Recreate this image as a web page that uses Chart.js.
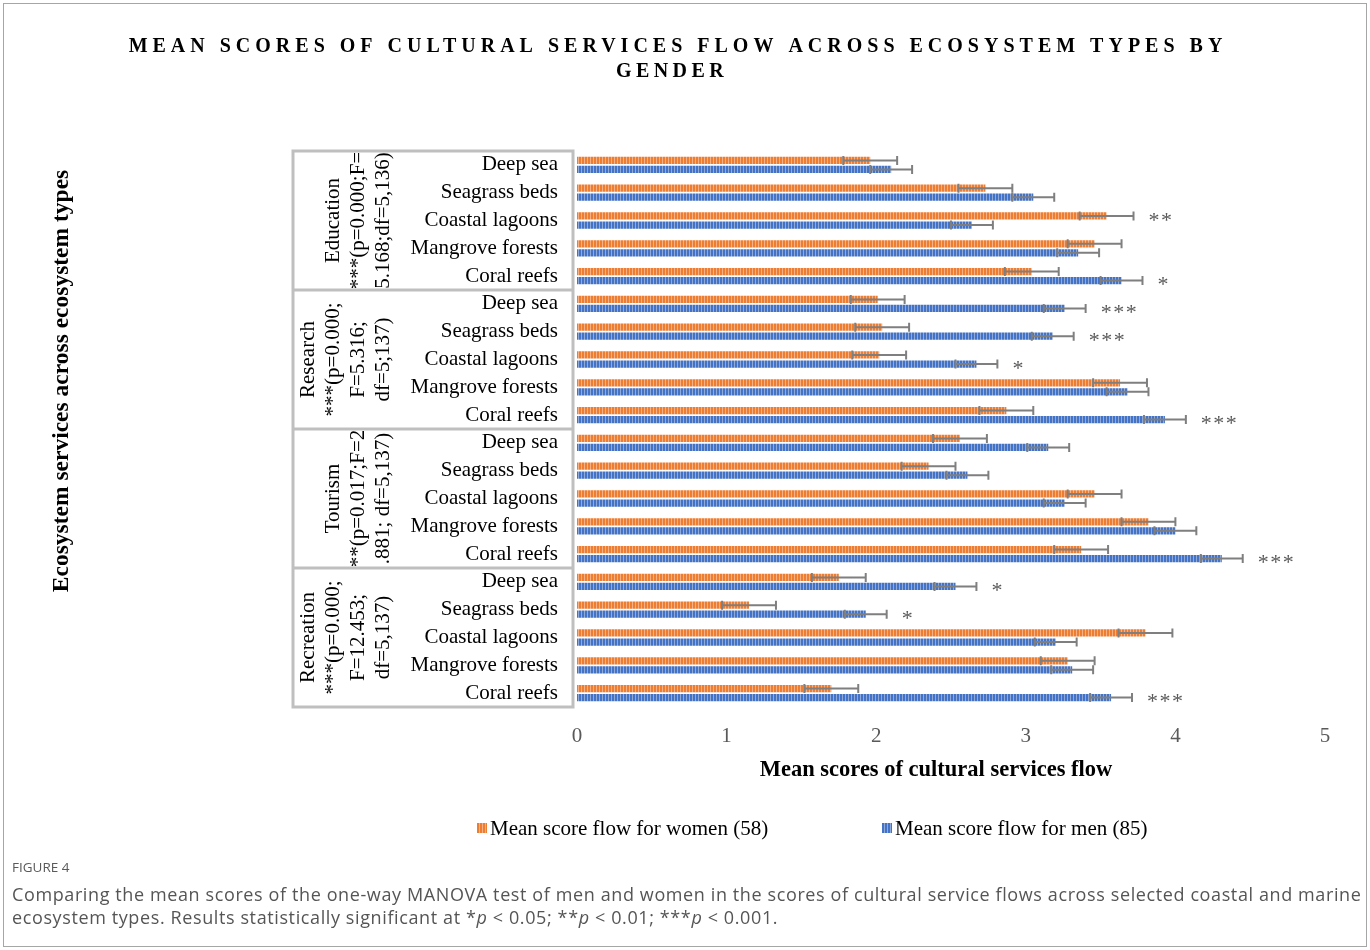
<!DOCTYPE html>
<html>
<head>
<meta charset="utf-8">
<script src="https://cdn.jsdelivr.net/npm/chart.js@4.4.1/dist/chart.umd.min.js"></script>
<style>
  html, body { margin: 0; padding: 0; background: #fff; }
  canvas { display: block; }
</style>
</head>
<body>
<canvas id="myChart" width="1370" height="950"></canvas>
<script>
// ecosystem rows, top to bottom (5 per service group)
let ecosystems = ['Deep sea', 'Seagrass beds', 'Coastal lagoons', 'Mangrove forests', 'Coral reefs'];
let groupLabels = [
    ['Education', '***(p=0.000;F=', '5.168;df=5,136)'],
    ['Research', '***(p=0.000;', 'F=5.316;', 'df=5;137)'],
    ['Tourism', '**(p=0.017;F=2', '.881; df=5,137)'],
    ['Recreation', '***(p=0.000;', 'F=12.453;', 'df=5,137)']
];
let categories = [].concat(ecosystems, ecosystems, ecosystems, ecosystems);

let womenScores = [1.96, 2.73, 3.54, 3.46, 3.04,
    2.01, 2.04, 2.02, 3.63, 2.87,
    2.56, 2.35, 3.46, 3.82, 3.37,
    1.75, 1.15, 3.80, 3.28, 1.70];
let menScores = [2.10, 3.05, 2.64, 3.35, 3.64,
    3.26, 3.18, 2.67, 3.68, 3.93,
    3.15, 2.61, 3.26, 4.00, 4.31,
    2.53, 1.93, 3.20, 3.31, 3.57];
let womenErr = [0.18, 0.18, 0.18, 0.18, 0.18,
    0.18, 0.18, 0.18, 0.18, 0.18,
    0.18, 0.18, 0.18, 0.18, 0.18,
    0.18, 0.18, 0.18, 0.18, 0.18];
let menErr = [0.14, 0.14, 0.14, 0.14, 0.14,
    0.14, 0.14, 0.14, 0.14, 0.14,
    0.14, 0.14, 0.14, 0.14, 0.14,
    0.14, 0.14, 0.14, 0.14, 0.14];
let significance = ['', '', '**', '', '*',
    '***', '***', '*', '', '***',
    '', '', '', '', '***',
    '*', '*', '', '', '***'];
let xTicks = [0, 1, 2, 3, 4, 5];

const SERIF = '"Liberation Serif", "Times New Roman", serif';
const SANS = '"Open Sans", "Noto Sans", sans-serif';

function stripes(base, light) {
    let c = document.createElement('canvas');
    c.width = 3; c.height = 1;
    let g = c.getContext('2d');
    g.fillStyle = base; g.fillRect(0, 0, 3, 1);
    g.fillStyle = light; g.fillRect(2, 0, 1, 1);
    return g.createPattern(c, 'repeat');
}
const ORANGE = stripes('#ED7D31', '#F6B083');
const BLUE = stripes('#4472C4', '#8EAADB');

// error bars + significance stars
const errorBars = {
    id: 'errorBars',
    afterDatasetsDraw(chart) {
        const ctx = chart.ctx, xs = chart.scales.x;
        const errs = [womenErr, menErr];
        ctx.save();
        ctx.strokeStyle = '#7f7f7f';
        ctx.lineWidth = 2;
        chart.data.datasets.forEach((ds, i) => {
            chart.getDatasetMeta(i).data.forEach((bar, j) => {
                let v = ds.data[j], e = errs[i][j];
                let x1 = xs.getPixelForValue(v - e), x2 = xs.getPixelForValue(v + e);
                ctx.beginPath();
                ctx.moveTo(x1, bar.y); ctx.lineTo(x2, bar.y);
                ctx.moveTo(x1, bar.y - 4.5); ctx.lineTo(x1, bar.y + 4.5);
                ctx.moveTo(x2, bar.y - 4.5); ctx.lineTo(x2, bar.y + 4.5);
                ctx.stroke();
            });
        });
        ctx.fillStyle = '#595959';
        ctx.font = '22px ' + SERIF;
        ctx.textAlign = 'left';
        ctx.textBaseline = 'middle';
        ctx.letterSpacing = '1.5px';
        significance.forEach((s, j) => {
            if (!s) return;
            let wEnd = womenScores[j] + womenErr[j], mEnd = menScores[j] + menErr[j];
            let k = wEnd > mEnd ? 0 : 1;
            let bar = chart.getDatasetMeta(k).data[j];
            ctx.fillText(s, xs.getPixelForValue(Math.max(wEnd, mEnd)) + 15, bar.y + 5);
        });
        ctx.restore();
    }
};

// frame, group labels, titles, legend, caption
const decorations = {
    id: 'decorations',
    afterDraw(chart) {
        const ctx = chart.ctx, area = chart.chartArea;
        const band = (area.bottom - area.top) / categories.length;
        const left = 293, right = 573;
        ctx.save();

        // outer figure border
        ctx.strokeStyle = '#a6a6a6';
        ctx.lineWidth = 1;
        ctx.strokeRect(3.5, 3.5, 1363, 943);

        // group boxes
        ctx.strokeStyle = '#bfbfbf';
        ctx.lineWidth = 3;
        ctx.beginPath();
        for (let g = 0; g <= groupLabels.length; g++) {
            let y = area.top + g * 5 * band;
            ctx.moveTo(left - 1.5, y); ctx.lineTo(right + 1.5, y);
        }
        ctx.moveTo(left, area.top); ctx.lineTo(left, area.bottom);
        ctx.moveTo(right, area.top); ctx.lineTo(right, area.bottom);
        ctx.stroke();

        ctx.fillStyle = '#000';
        ctx.font = '21px ' + SERIF;
        ctx.textAlign = 'center';
        ctx.textBaseline = 'middle';
        groupLabels.forEach((lines, g) => {
            let top = area.top + g * 5 * band, bottom = top + 5 * band;
            ctx.save();
            ctx.beginPath();
            ctx.rect(left + 2, top + 2, right - left - 4, bottom - top - 4);
            ctx.clip();
            lines.forEach((t, k) => {
                let x = 383 - (lines.length - 1 - k) * 25;
                ctx.save();
                ctx.translate(x, (top + bottom) / 2);
                ctx.rotate(-Math.PI / 2);
                ctx.fillText(t, 0, 0);
                ctx.restore();
            });
            ctx.restore();
        });

        // chart title
        ctx.font = 'bold 20px ' + SERIF;
        ctx.letterSpacing = '5px';
        ctx.fillText('MEAN SCORES OF CULTURAL SERVICES FLOW ACROSS ECOSYSTEM TYPES BY', 678, 47);
        ctx.letterSpacing = '4.4px';
        ctx.fillText('GENDER', 672, 72);
        ctx.letterSpacing = '0px';

        // axis titles
        ctx.font = 'bold 22.5px ' + SERIF;
        ctx.fillText('Mean scores of cultural services flow', 936, 770);
        ctx.save();
        ctx.translate(62, 381);
        ctx.rotate(-Math.PI / 2);
        ctx.font = 'bold 23.5px ' + SERIF;
        ctx.fillText('Ecosystem services across ecosystem types', 0, 0);
        ctx.restore();

        // legend
        ctx.textAlign = 'left';
        ctx.font = '21px ' + SERIF;
        chart.data.datasets.forEach((ds, i) => {
            let x = i === 0 ? 477 : 882;
            ctx.fillStyle = ds.backgroundColor;
            ctx.fillRect(x, 823, 10, 10);
            ctx.fillStyle = '#000';
            ctx.fillText(ds.label, x + 13, 829);
        });

        // caption
        ctx.fillStyle = '#5a5a5a';
        ctx.font = '13.5px ' + SANS;
        ctx.fillText('FIGURE 4', 12, 868);
        ctx.fillStyle = '#555';
        ctx.font = '18px ' + SANS;
        let line1 = 'Comparing the mean scores of the one-way MANOVA test of men and women in the scores of cultural service flows across selected coastal and marine';
        let ls = (1350 - ctx.measureText(line1).width) / line1.length;
        ctx.letterSpacing = ls.toFixed(2) + 'px';
        ctx.fillText(line1, 12, 896);
        let parts = [['ecosystem types. Results statistically significant at *', false], ['p', true], [' < 0.05; **', false], ['p', true], [' < 0.01; ***', false], ['p', true], [' < 0.001.', false]];
        let cx = 12;
        parts.forEach(([t, it]) => {
            ctx.font = (it ? 'italic ' : '') + '18px ' + SANS;
            ctx.fillText(t, cx, 919);
            cx += ctx.measureText(t).width;
        });
        ctx.restore();
    }
};

let chartElement = document.getElementById('myChart').getContext('2d');

let myChart = new Chart(chartElement, {
    type: 'bar',
    data: {
        labels: categories,
        datasets: [{
            label: 'Mean score flow for women (58)',
            data: womenScores,
            backgroundColor: ORANGE,
            categoryPercentage: 0.65,
            barPercentage: 0.8
        }, {
            label: 'Mean score flow for men (85)',
            data: menScores,
            backgroundColor: BLUE,
            categoryPercentage: 0.65,
            barPercentage: 0.8
        }]
    },
    options: {
        indexAxis: 'y',
        responsive: false,
        animation: false,
        devicePixelRatio: 1,
        layout: { padding: { left: 0, top: 151, right: 45, bottom: 183 } },
        plugins: {
            legend: { display: false },
            tooltip: { enabled: false }
        },
        scales: {
            x: {
                min: 0,
                max: 5,
                afterBuildTicks: (s) => { s.ticks = xTicks.map(v => ({ value: v })); },
                afterFit: (s) => { s.height = 60; },
                grid: { display: false, drawTicks: false },
                border: { display: false },
                ticks: { padding: 17, color: '#595959', font: { family: SERIF, size: 21 } }
            },
            y: {
                afterFit: (s) => { s.width = 577; },
                grid: { display: false, drawTicks: false },
                border: { display: false },
                ticks: { padding: 19, color: '#000', autoSkip: false, font: { family: SERIF, size: 21 } }
            }
        }
    },
    plugins: [errorBars, decorations]
});
</script>
</body>
</html>
